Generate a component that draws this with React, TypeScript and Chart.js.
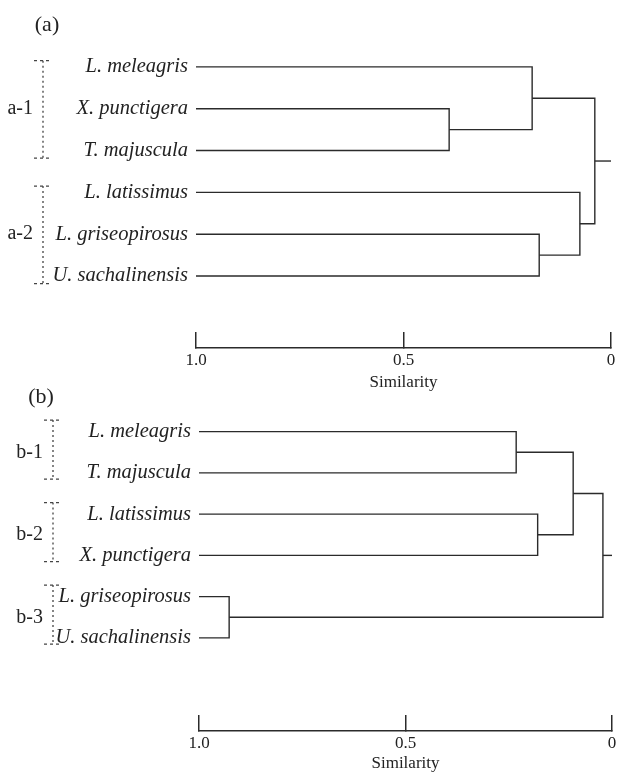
import React, { useEffect, useRef } from 'react';
import { Chart, registerables } from 'chart.js';

Chart.register(...registerables);

// ---------- Data ----------
// Panel (a)
const aLeaves = ['L. meleagris', 'X. punctigera', 'T. majuscula', 'L. latissimus', 'L. griseopirosus', 'U. sachalinensis'];
// merges: node index n+k joins mergeLeft[k] and mergeRight[k] at similarity mergeSim[k]
const aMergeLeft = [1, 0, 4, 3, 7];
const aMergeRight = [2, 6, 5, 8, 9];
const aMergeSim = [0.39, 0.19, 0.173, 0.075, 0.039];
const aGroups = ['a-1', 'a-2'];
const aGroupFirst = [0, 3];
const aGroupLast = [2, 5];

// Panel (b)
const bLeaves = ['L. meleagris', 'T. majuscula', 'L. latissimus', 'X. punctigera', 'L. griseopirosus', 'U. sachalinensis'];
const bMergeLeft = [0, 2, 6, 4, 8];
const bMergeRight = [1, 3, 7, 5, 9];
const bMergeSim = [0.232, 0.18, 0.094, 0.927, 0.022];
const bGroups = ['b-1', 'b-2', 'b-3'];
const bGroupFirst = [0, 2, 4];
const bGroupLast = [1, 3, 5];

const leafSimilarity = 1.0;
const rootSimilarity = 0;
const xTickValues = [1, 0.5, 0];
const xTickLabels = ['1.0', '0.5', '0'];
const xTitle = 'Similarity';

// ---------- Styling ----------
const LINE = '#2b2b2b';
const TEXT = '#222222';
const SERIF = '"Liberation Serif", "Times New Roman", serif';

type Layout = {
  top: number;
  height: number;
  padTop: number;
  padRight: number;
  yMax: number;
  yAxisWidth: number;
  xAxisHeight: number;
  label: string;
  labelX: number;
  labelY: number;
  bracketX: number;
  bracketTop: number;
  bracketBottom: number;
};

const layoutA: Layout = {
  top: 0, height: 392, padTop: 46, padRight: 6, yMax: 6.72, yAxisWidth: 196, xAxisHeight: 44,
  label: '(a)', labelX: 47, labelY: 25, bracketX: 43, bracketTop: -0.15, bracketBottom: 0.18,
};
const layoutB: Layout = {
  top: 380, height: 393, padTop: 31, padRight: 5, yMax: 7.257, yAxisWidth: 199, xAxisHeight: 42,
  label: '(b)', labelX: 41, labelY: 17, bracketX: 53, bracketTop: -0.28, bracketBottom: 0.15,
};

function buildDatasets(leaves: string[], left: number[], right: number[], sims: number[]) {
  const xs: number[] = leaves.map(() => leafSimilarity);
  const ys: number[] = leaves.map((_, i) => i);
  const style = {
    showLine: true,
    borderColor: LINE,
    borderWidth: 1.4,
    pointRadius: 0,
    pointHoverRadius: 0,
    fill: false,
    tension: 0,
  };
  const datasets: any[] = [];
  for (let k = 0; k < sims.length; k++) {
    const a = left[k];
    const b = right[k];
    const h = sims[k];
    datasets.push({
      ...style,
      data: [
        { x: xs[a], y: ys[a] },
        { x: h, y: ys[a] },
        { x: h, y: ys[b] },
        { x: xs[b], y: ys[b] },
      ],
    });
    xs.push(h);
    ys.push((ys[a] + ys[b]) / 2);
  }
  const root = xs.length - 1;
  datasets.push({
    ...style,
    data: [
      { x: xs[root], y: ys[root] },
      { x: rootSimilarity, y: ys[root] },
    ],
  });
  return datasets;
}

type PanelProps = {
  leaves: string[];
  mergeLeft: number[];
  mergeRight: number[];
  mergeSim: number[];
  groups: string[];
  groupFirst: number[];
  groupLast: number[];
  layout: Layout;
};

function DendroPanel({ leaves, mergeLeft, mergeRight, mergeSim, groups, groupFirst, groupLast, layout }: PanelProps) {
  const ref = useRef<HTMLCanvasElement>(null);

  useEffect(() => {
    const canvas = ref.current;
    if (!canvas) return;
    const datasets = buildDatasets(leaves, mergeLeft, mergeRight, mergeSim);

    const annotate = {
      id: 'annotate',
      afterDraw(chart: any) {
        const ctx = chart.ctx as CanvasRenderingContext2D;
        const y = chart.scales.y;
        ctx.save();
        ctx.fillStyle = TEXT;
        ctx.font = `22px ${SERIF}`;
        ctx.textAlign = 'center';
        ctx.textBaseline = 'middle';
        ctx.fillText(layout.label, layout.labelX, layout.labelY);

        ctx.font = `20px ${SERIF}`;
        ctx.textAlign = 'right';
        ctx.strokeStyle = '#444';
        ctx.lineWidth = 1.3;
        const bx = layout.bracketX;
        groups.forEach((g, i) => {
          const top = y.getPixelForValue(groupFirst[i] + layout.bracketTop);
          const bot = y.getPixelForValue(groupLast[i] + layout.bracketBottom);
          const mid = (y.getPixelForValue(groupFirst[i]) + y.getPixelForValue(groupLast[i])) / 2;
          ctx.setLineDash([2, 3]);
          ctx.beginPath();
          ctx.moveTo(bx, top);
          ctx.lineTo(bx, bot);
          ctx.stroke();
          ctx.setLineDash([3, 3]);
          ctx.beginPath();
          ctx.moveTo(bx - 9, top);
          ctx.lineTo(bx + 8, top);
          ctx.moveTo(bx - 9, bot);
          ctx.lineTo(bx + 8, bot);
          ctx.stroke();
          ctx.setLineDash([]);
          ctx.fillText(g, bx - 10, mid);
        });
        ctx.restore();
      },
    };

    const chart = new Chart(canvas, {
      type: 'scatter',
      data: { datasets },
      options: {
        animation: false,
        responsive: false,
        devicePixelRatio: 1,
        events: [],
        layout: { padding: { top: layout.padTop, right: layout.padRight, bottom: 0, left: 0 } },
        plugins: {
          legend: { display: false },
          tooltip: { enabled: false },
          title: { display: false },
        },
        scales: {
          x: {
            type: 'linear',
            position: 'bottom',
            min: 0,
            max: 1,
            reverse: true,
            afterBuildTicks: (scale: any) => {
              scale.ticks = xTickValues.map((v) => ({ value: v }));
            },
            afterFit: (scale: any) => {
              scale.height = layout.xAxisHeight;
              scale.paddingLeft = 0;
              scale.paddingRight = 0;
            },
            grid: {
              display: true,
              drawOnChartArea: false,
              drawTicks: true,
              tickLength: -16,
              color: LINE,
              lineWidth: 1.5,
            },
            border: { display: true, color: LINE, width: 1.5 },
            ticks: {
              autoSkip: false,
              maxRotation: 0,
              minRotation: 0,
              padding: 18,
              color: TEXT,
              font: { family: SERIF, size: 17 },
              callback: (v: any) => xTickLabels[xTickValues.indexOf(Number(v))] ?? '',
            },
            title: {
              display: true,
              text: xTitle,
              color: TEXT,
              font: { family: SERIF, size: 17, lineHeight: 1 },
              padding: { top: 0, bottom: 1 },
            },
          },
          y: {
            type: 'linear',
            position: 'left',
            reverse: true,
            min: -0.5,
            max: layout.yMax,
            afterBuildTicks: (scale: any) => {
              scale.ticks = leaves.map((_, i) => ({ value: i }));
            },
            afterFit: (scale: any) => {
              scale.width = layout.yAxisWidth;
              scale.paddingTop = 0;
              scale.paddingBottom = 0;
            },
            grid: { display: false, drawTicks: false },
            border: { display: false },
            ticks: {
              autoSkip: false,
              padding: 8,
              color: TEXT,
              font: { family: SERIF, size: 20.5, style: 'italic' },
              callback: (v: any) => leaves[Number(v)] ?? '',
            },
          },
        },
      } as any,
      plugins: [annotate],
    });

    return () => chart.destroy();
  }, []);

  return (
    <canvas
      ref={ref}
      width={617}
      height={layout.height}
      style={{ position: 'absolute', left: 0, top: layout.top, width: 617, height: layout.height }}
    />
  );
}

export default function App() {
  return (
    <div style={{ position: 'absolute', left: 0, top: 0, width: 617, height: 773, background: '#ffffff', overflow: 'hidden' }}>
      <DendroPanel
        leaves={aLeaves}
        mergeLeft={aMergeLeft}
        mergeRight={aMergeRight}
        mergeSim={aMergeSim}
        groups={aGroups}
        groupFirst={aGroupFirst}
        groupLast={aGroupLast}
        layout={layoutA}
      />
      <DendroPanel
        leaves={bLeaves}
        mergeLeft={bMergeLeft}
        mergeRight={bMergeRight}
        mergeSim={bMergeSim}
        groups={bGroups}
        groupFirst={bGroupFirst}
        groupLast={bGroupLast}
        layout={layoutB}
      />
    </div>
  );
}
